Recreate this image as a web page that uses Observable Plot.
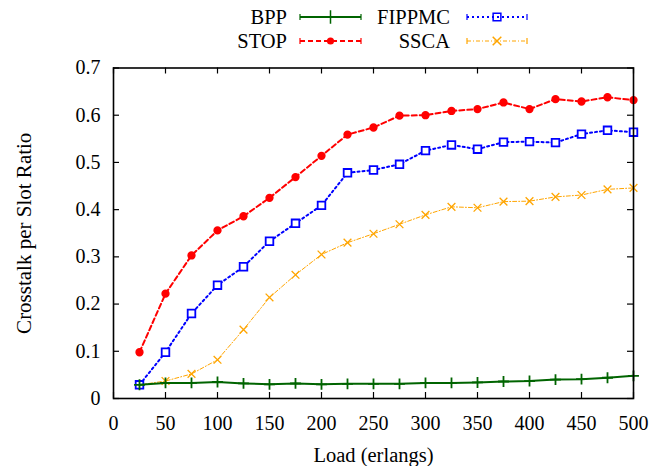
<!DOCTYPE html>
<html>
<head>
<meta charset="utf-8">
<script src="https://cdn.jsdelivr.net/npm/d3@7"></script>
<script src="https://cdn.jsdelivr.net/npm/@observablehq/plot@0.6"></script>
<style>
  html, body { margin: 0; padding: 0; background: #fff; }
  #chart { width: 667px; }
  svg { display: block; }
</style>
</head>
<body>
<div id="chart"></div>
<script>
const loads  = [25, 50, 75, 100, 125, 150, 175, 200, 225, 250, 275, 300, 325, 350, 375, 400, 425, 450, 475, 500];
const bpp    = [0.029, 0.033, 0.033, 0.035, 0.032, 0.030, 0.032, 0.030, 0.031, 0.031, 0.031, 0.033, 0.033, 0.034, 0.036, 0.037, 0.040, 0.041, 0.044, 0.048];
const stop   = [0.098, 0.222, 0.303, 0.356, 0.386, 0.425, 0.469, 0.514, 0.559, 0.574, 0.599, 0.600, 0.609, 0.613, 0.627, 0.613, 0.634, 0.629, 0.638, 0.632];
const fippmc = [0.029, 0.098, 0.180, 0.240, 0.279, 0.333, 0.371, 0.409, 0.478, 0.484, 0.496, 0.525, 0.537, 0.528, 0.543, 0.544, 0.542, 0.560, 0.568, 0.564];
const ssca   = [0.029, 0.037, 0.052, 0.082, 0.146, 0.214, 0.262, 0.305, 0.330, 0.349, 0.369, 0.389, 0.406, 0.404, 0.417, 0.418, 0.427, 0.431, 0.443, 0.446];
const xTicks = [0, 50, 100, 150, 200, 250, 300, 350, 400, 450, 500];
const yTicks = [0, 0.1, 0.2, 0.3, 0.4, 0.5, 0.6, 0.7];
const seriesNames = ["BPP", "STOP", "FIPPMC", "SSCA"];
const colors = {BPP: "#006400", STOP: "#ff0000", FIPPMC: "#0000ff", SSCA: "#ffa500"};

const toRows = (vals) => loads.map((l, i) => ({load: l, value: vals[i]}));
const dBPP = toRows(bpp), dSTOP = toRows(stop), dFIP = toRows(fippmc), dSSCA = toRows(ssca);

const FONT = "'Liberation Serif', 'Times New Roman', serif";
const container = document.getElementById("chart");

// Legend (above the plot SVG)
const legH = 55;
const leg = d3.create("svg").attr("width", 667).attr("height", legH)
  .style("font-family", FONT).style("font-size", "20.5px");
const legItems = [
  {name: "BPP", tx: 287, lx0: 300, lx1: 361, y: 17},
  {name: "FIPPMC", tx: 450, lx0: 467, lx1: 527, y: 17},
  {name: "STOP", tx: 287, lx0: 300, lx1: 361, y: 41},
  {name: "SSCA", tx: 450, lx0: 467, lx1: 527, y: 41}
];
const dashes = {BPP: null, STOP: "5,3", FIPPMC: "2,3", SSCA: "4,2,1,2"};
const widths = {BPP: 2, STOP: 2, FIPPMC: 2, SSCA: 1};
for (const it of legItems) {
  const c = colors[it.name];
  leg.append("text").attr("x", it.tx).attr("y", it.y).attr("dy", "0.35em")
    .attr("text-anchor", "end").attr("fill", "black").text(it.name);
  leg.append("line").attr("x1", it.lx0).attr("x2", it.lx1).attr("y1", it.y).attr("y2", it.y)
    .attr("stroke", c).attr("stroke-width", widths[it.name]).attr("stroke-dasharray", dashes[it.name]);
  for (const ex of [it.lx0, it.lx1]) {
    leg.append("line").attr("x1", ex).attr("x2", ex).attr("y1", it.y - 3).attr("y2", it.y + 3)
      .attr("stroke", c).attr("stroke-width", 1.2);
  }
  const mx = (it.lx0 + it.lx1) / 2;
  const sym = {BPP: d3.symbolPlus, STOP: d3.symbolCircle, FIPPMC: d3.symbolSquare, SSCA: d3.symbolTimes}[it.name];
  const size = {BPP: 60, STOP: 40, FIPPMC: 60, SSCA: 50}[it.name];
  const p = leg.append("path").attr("d", d3.symbol(sym, size)()).attr("transform", `translate(${mx},${it.y})`);
  if (it.name === "STOP") p.attr("fill", c);
  else p.attr("fill", "none").attr("stroke", c).attr("stroke-width", 1.5);
}
container.appendChild(leg.node());

const H = 411, mt = 12.5, mb = 68, ml = 113, mr = 34;
const frameH = H - mt - mb, frameW = 667 - ml - mr;
const tickLen = 6;

const chart = Plot.plot({
  width: 667,
  height: H,
  marginTop: mt,
  marginBottom: mb,
  marginLeft: ml,
  marginRight: mr,
  style: {fontFamily: FONT, fontSize: "20px", color: "black", background: "white"},
  x: {domain: [0, 500]},
  y: {domain: [0, 0.7]},
  marks: [
    Plot.axisX({ticks: xTicks, tickSize: 0, tickPadding: 17, tickFormat: d => String(d), label: null, fontSize: 20}),
    Plot.axisY({ticks: yTicks, tickSize: 0, tickPadding: 13, tickFormat: d => String(d), label: null, fontSize: 20}),
    // inward mirrored ticks
    Plot.tickX(xTicks, {x: d => d, insetTop: frameH - tickLen, stroke: "black", strokeWidth: 1.2}),
    Plot.tickX(xTicks, {x: d => d, insetBottom: frameH - tickLen, stroke: "black", strokeWidth: 1.2}),
    Plot.tickY(yTicks, {y: d => d, insetRight: frameW - tickLen, stroke: "black", strokeWidth: 1.2}),
    Plot.tickY(yTicks, {y: d => d, insetLeft: frameW - tickLen, stroke: "black", strokeWidth: 1.2}),
    // series
    Plot.line(dSSCA, {x: "load", y: "value", stroke: colors.SSCA, strokeWidth: 1, strokeDasharray: "4,2,1,2"}),
    Plot.dot(dSSCA, {x: "load", y: "value", symbol: "times", r: 3.6, stroke: colors.SSCA, strokeWidth: 1.3}),
    Plot.line(dFIP, {x: "load", y: "value", stroke: colors.FIPPMC, strokeWidth: 2, strokeDasharray: "2,3"}),
    Plot.dot(dFIP, {x: "load", y: "value", symbol: "square", r: 4.3, stroke: colors.FIPPMC, strokeWidth: 1.8, fill: "white"}),
    Plot.line(dSTOP, {x: "load", y: "value", stroke: colors.STOP, strokeWidth: 2, strokeDasharray: "5,3"}),
    Plot.dot(dSTOP, {x: "load", y: "value", r: 3.4, fill: colors.STOP, stroke: colors.STOP}),
    Plot.line(dBPP, {x: "load", y: "value", stroke: colors.BPP, strokeWidth: 2}),
    Plot.dot(dBPP, {x: "load", y: "value", symbol: "plus", r: 3.6, stroke: colors.BPP, strokeWidth: 1.8}),
    // axis titles
    Plot.text(["Load (erlangs)"], {frameAnchor: "bottom", dy: 57, lineAnchor: "middle", textAnchor: "middle", text: d => d, fontSize: 20.5, fill: "black"}),
    Plot.text(["Crosstalk per Slot Ratio"], {frameAnchor: "left", dx: -89, dy: 0, rotate: -90, lineAnchor: "middle", textAnchor: "middle", text: d => d, fontSize: 21, fill: "black"}),
    Plot.frame({stroke: "black", strokeWidth: 1.6})
  ]
});
container.appendChild(chart);
</script>
</body>
</html>
